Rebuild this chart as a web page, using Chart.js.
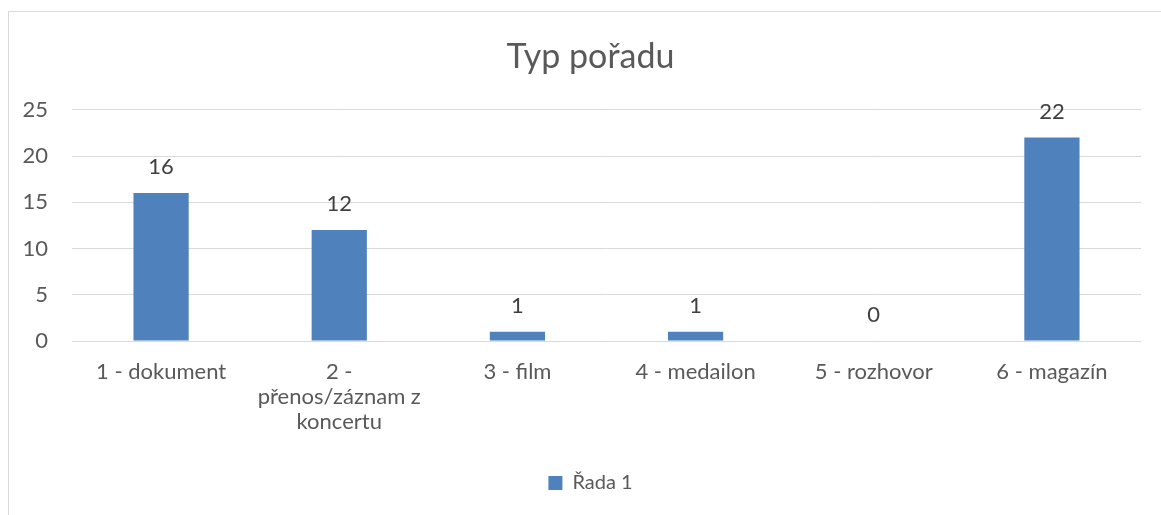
<!DOCTYPE html>
<html>
<head>
<meta charset="utf-8">
<script src="https://cdn.jsdelivr.net/npm/chart.js@4.4.0/dist/chart.umd.min.js"></script>
<style>
html,body{margin:0;padding:0;background:#fff;overflow:hidden;}
#frame{position:absolute;left:8px;top:11px;width:1170px;height:520px;border:1px solid #d9d9d9;box-sizing:border-box;}
#wrap{position:absolute;left:0;top:0;width:1161px;height:515px;}
</style>
</head>
<body>
<div id="frame"></div>
<div id="wrap"><canvas id="c" width="1161" height="515"></canvas></div>
<script>
const titleText = 'Typ pořadu';
const categories = [
  '1 - dokument',
  ['2 -', 'přenos/záznam z', 'koncertu'],
  '3 - film',
  '4 - medailon',
  '5 - rozhovor',
  '6 - magazín'
];
const seriesName = 'Řada 1';
const values = [16, 12, 1, 1, 0, 22];
const yTicks = [0, 5, 10, 15, 20, 25];

const FONT = 'Lato, "Open Sans", sans-serif';
const barColor = '#4F81BD';

const dataLabels = {
  id: 'dataLabels',
  afterDatasetsDraw(chart) {
    const ctx = chart.ctx;
    const meta = chart.getDatasetMeta(0);
    ctx.save();
    ctx.font = '22px ' + FONT;
    ctx.fillStyle = '#404040';
    ctx.textAlign = 'center';
    ctx.textBaseline = 'middle';
    meta.data.forEach((bar, i) => {
      ctx.fillText(String(values[i]), bar.x, bar.y - 26);
    });
    ctx.restore();
  }
};

new Chart(document.getElementById('c'), {
  type: 'bar',
  data: {
    labels: categories,
    datasets: [{
      label: seriesName,
      data: values,
      backgroundColor: barColor,
      borderWidth: 0,
      barPercentage: 0.62,
      categoryPercentage: 0.5,
      yAxisID: 'y'
    }]
  },
  options: {
    responsive: false,
    animation: false,
    devicePixelRatio: 1,
    layout: { padding: { left: 20, right: 0, top: 0, bottom: 12 } },
    plugins: {
      title: {
        display: true,
        text: titleText,
        color: '#595959',
        font: { family: FONT, size: 34, weight: 'normal' },
        padding: { top: 37, bottom: 32 }
      },
      legend: {
        display: true,
        position: 'bottom',
        labels: {
          color: '#595959',
          font: { family: FONT, size: 20 },
          boxWidth: 14,
          boxHeight: 14,
          padding: 10
        }
      },
      tooltip: { enabled: false }
    },
    scales: {
      y: {
        position: 'left',
        min: 0,
        max: 25,
        afterBuildTicks(scale) { scale.ticks = yTicks.map(v => ({ value: v })); },
        afterFit(scale) { scale.width = 52; },
        border: { display: false },
        grid: { color: '#d9d9d9', lineWidth: 1, drawTicks: false },
        ticks: {
          color: '#595959',
          font: { family: FONT, size: 22 },
          padding: 24
        }
      },
      yRight: {
        position: 'right',
        display: true,
        min: 0,
        max: 25,
        afterFit(scale) { scale.width = 20; },
        border: { display: false },
        grid: { display: false, drawTicks: false },
        ticks: { display: false }
      },
      x: {
        border: { display: false },
        grid: { display: false, drawTicks: false },
        afterFit(scale) { scale.height = 122; },
        ticks: {
          color: '#595959',
          font: { family: FONT, size: 22, lineHeight: 1.14 },
          padding: 18,
          maxRotation: 0,
          autoSkip: false
        }
      }
    }
  },
  plugins: [dataLabels]
});
</script>
</body>
</html>
